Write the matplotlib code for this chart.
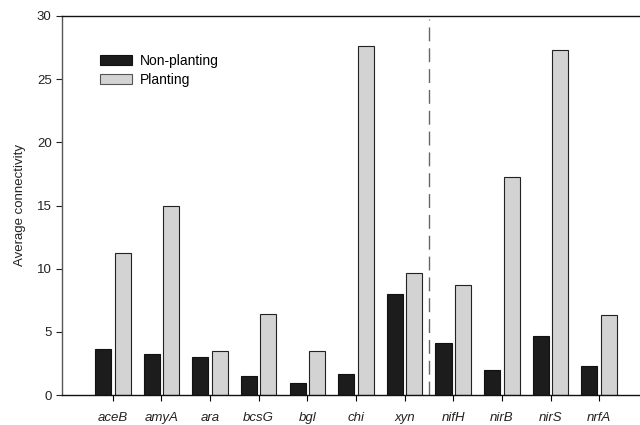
import matplotlib
matplotlib.use("Agg")
import matplotlib.pyplot as plt
import numpy as np
from matplotlib.patches import Patch

plt.rcParams['font.family'] = ['Liberation Sans', 'DejaVu Sans']

genes = ["aceB", "amyA", "ara", "bcsG", "bgl", "chi", "xyn", "nifH", "nirB", "nirS", "nrfA"]
non_planting = [3.62, 3.22, 3.03, 1.50, 0.95, 1.66, 8.00, 4.14, 1.98, 4.64, 2.32]
planting = [11.22, 15.0, 3.48, 6.44, 3.48, 27.66, 9.69, 8.68, 17.29, 27.3, 6.31]
yticks = [0, 5, 10, 15, 20, 25, 30]

fig = plt.figure(figsize=(6.4, 4.25), dpi=100)
ax = fig.add_axes([62/640, 30/425, 578/640, 379/425])

x = np.arange(len(genes))
w = 0.33
off = 0.2
ax.bar(x - off, non_planting, width=w, color="#1c1c1c", edgecolor="#111111", linewidth=0.8, label="Non-planting")
ax.bar(x + off, planting, width=w, color="#d3d3d3", edgecolor="#222222", linewidth=0.8, label="Planting")

ax.axvline(6.5, ymin=0, ymax=(395-19)/379, color="#666666", linewidth=1.0, dashes=(10, 5))

ax.set_xlim(-1.045, 10.84)
ax.set_ylim(0, 30)
ax.set_yticks(yticks)
ax.set_xticks(x)
ax.set_xticklabels(genes, fontstyle="italic", fontsize=9.5, color="#222222")
ax.tick_params(axis='y', labelsize=9.5, colors="#222222", direction='out', length=4)
ax.tick_params(axis='x', direction='out', length=4, pad=8)
ax.set_ylabel("Average connectivity", fontsize=9.5, color="#222222", labelpad=8)

for s in ["top", "bottom"]:
    ax.spines[s].set_color("#111111")
    ax.spines[s].set_linewidth(1.0)
ax.spines["left"].set_color("#555555")
ax.spines["left"].set_linewidth(1.0)
ax.spines["right"].set_visible(False)

handles = [Patch(facecolor="#1c1c1c", edgecolor="#111111", linewidth=0.8),
           Patch(facecolor="#d3d3d3", edgecolor="#555555", linewidth=0.8)]
ax.legend(handles, ["Non-planting", "Planting"], loc="upper left",
          bbox_to_anchor=((100-62)/578, (395-54)/379), frameon=False,
          fontsize=10, handlelength=2.3, handleheight=0.8, borderpad=0,
          borderaxespad=0, handletextpad=0.55, labelspacing=0.35)

fig.savefig("out.png", dpi=100)
